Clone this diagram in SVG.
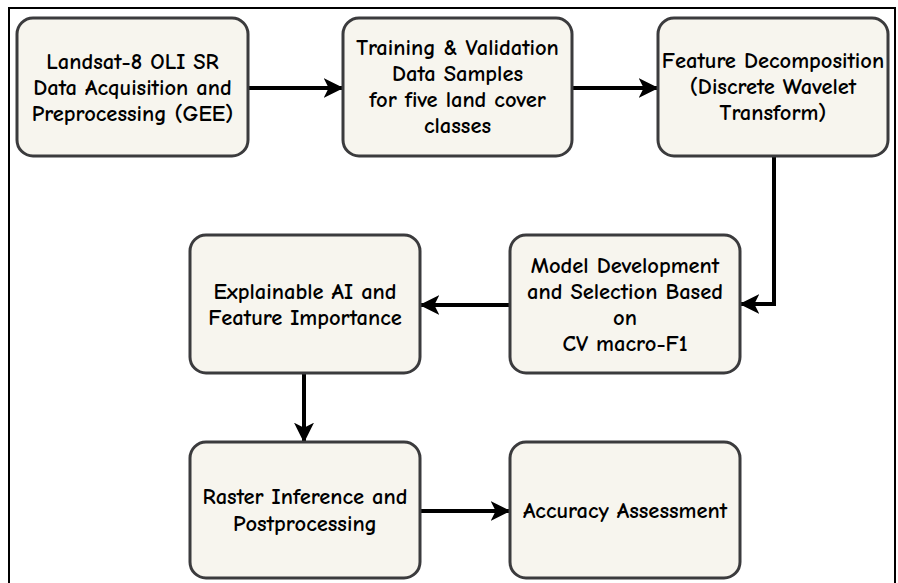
<svg xmlns="http://www.w3.org/2000/svg" width="898" height="583" viewBox="0 0 898 583">
<style>
.box{fill:#f7f5ee;stroke:#3b3b3d;stroke-width:3}
.t{font-family:"Comic Sans MS","Comic Neue","Open Sans","DejaVu Sans",sans-serif;font-size:22.5px;font-weight:bold;fill:#000;text-anchor:middle;dominant-baseline:central}
.c{fill:none;stroke:#000;stroke-width:4}
</style>
<defs>
<marker id="a" viewBox="0 0 12 12" refX="11" refY="6" markerWidth="5" markerHeight="5" orient="auto">
<path d="M0,0 L12,6 L0,12 L3,6 Z" fill="#000"/>
</marker>
</defs>
<rect x="9" y="8" width="886" height="600" fill="#fff" stroke="#000" stroke-width="2"/>
<g id="connectors">
<path class="c" d="M248,88 L342,88" marker-end="url(#a)"/>
<path class="c" d="M572,88 L657,88" marker-end="url(#a)"/>
<path class="c" d="M774,156 L774,304 L741,304" marker-end="url(#a)"/>
<path class="c" d="M510,305 L421,305" marker-end="url(#a)"/>
<path class="c" d="M304,373 L304,441" marker-end="url(#a)"/>
<path class="c" d="M420,511 L509,511" marker-end="url(#a)"/>
</g>
<g id="n1">
<rect class="box" x="17" y="18" width="231" height="138" rx="16"/>
<text class="t" x="132.5" y="62">Landsat-8 OLI SR</text>
<text class="t" x="132.5" y="88">Data Acquisition and</text>
<text class="t" x="132.5" y="114">Preprocessing (GEE)</text>
</g>
<g id="n2">
<rect class="box" x="343" y="18" width="229" height="138" rx="16"/>
<text class="t" x="457.5" y="48">Training &amp; Validation</text>
<text class="t" x="457.5" y="74">Data Samples</text>
<text class="t" x="457.5" y="100">for five land cover</text>
<text class="t" x="457.5" y="126">classes</text>
</g>
<g id="n3">
<rect class="box" x="658" y="18" width="230" height="138" rx="16"/>
<text class="t" x="773" y="61">Feature Decomposition</text>
<text class="t" x="773" y="87">(Discrete Wavelet</text>
<text class="t" x="773" y="113">Transform)</text>
</g>
<g id="n4">
<rect class="box" x="510" y="235" width="230" height="138" rx="16"/>
<text class="t" x="625" y="266">Model Development</text>
<text class="t" x="625" y="292">and Selection Based</text>
<text class="t" x="625" y="318">on</text>
<text class="t" x="625" y="344">CV macro-F1</text>
</g>
<g id="n5">
<rect class="box" x="190" y="235" width="230" height="138" rx="16"/>
<text class="t" x="305" y="292">Explainable AI and</text>
<text class="t" x="305" y="318">Feature Importance</text>
</g>
<g id="n6">
<rect class="box" x="190" y="442" width="230" height="136" rx="16"/>
<text class="t" x="305" y="497">Raster Inference and</text>
<text class="t" x="305" y="524">Postprocessing</text>
</g>
<g id="n7">
<rect class="box" x="510" y="442" width="230" height="136" rx="16"/>
<text class="t" x="625" y="511">Accuracy Assessment</text>
</g>
</svg>
